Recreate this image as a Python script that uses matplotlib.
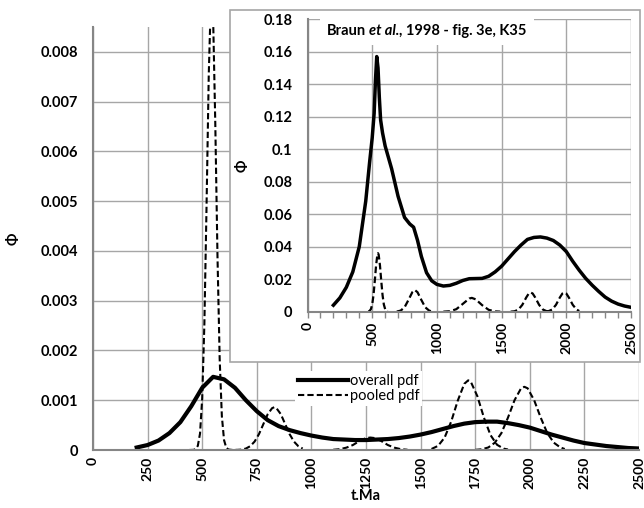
import numpy as np
import matplotlib
matplotlib.use('Agg')
import matplotlib.pyplot as plt
from matplotlib.patches import Rectangle
from matplotlib.offsetbox import TextArea, HPacker, AnchoredOffsetbox
from matplotlib.ticker import FuncFormatter, MultipleLocator

FONT = ['Lato', 'DejaVu Sans']
plt.rcParams['font.family'] = FONT

# ---- main chart: overall pdf (t in Ma, phi) ----
main_overall_t = [200, 250, 300, 350, 400, 450, 500, 550, 600, 650, 700, 750,
                  800, 850, 900, 950, 1000, 1050, 1100, 1150, 1200, 1250, 1300,
                  1350, 1400, 1450, 1500, 1550, 1600, 1650, 1700, 1750, 1800,
                  1850, 1900, 1950, 2000, 2050, 2100, 2150, 2200, 2250, 2300,
                  2350, 2400, 2450, 2500]
main_overall_phi = [0.00005, 0.00010, 0.00019, 0.00034, 0.00056, 0.00088,
                    0.00125, 0.00147, 0.00142, 0.00125, 0.00100, 0.00078,
                    0.00060, 0.00048, 0.00040, 0.00034, 0.00029, 0.00025,
                    0.00022, 0.00021, 0.00020, 0.00020, 0.00021, 0.00022,
                    0.00024, 0.00027, 0.00031, 0.00036, 0.00042, 0.00048,
                    0.00053, 0.00056, 0.00057, 0.00057, 0.00054, 0.00050,
                    0.00045, 0.00038, 0.00031, 0.00025, 0.00019, 0.00014,
                    0.00011, 0.00008, 0.00006, 0.00004, 0.00003]

# ---- main chart: pooled pdf, pieces separated by gaps (nan) ----
nan = np.nan
main_pooled_t = [440, 460, 470, 480, 490, 500, 510, 520, 530, 540, 543, 550,
                 560, 570, 580, 590, 600, 610, 620, 640, 660, nan,
                 650, 680, 700, 720, 740, 760, 780, 800, 820, 830, 840, 860,
                 880, 900, 920, 940, 960, nan,
                 1100, 1130, 1160, 1190, 1220, 1250, 1270, 1290, 1320, 1350,
                 1380, 1410, 1440, nan,
                 1550, 1580, 1610, 1640, 1670, 1700, 1718, 1730, 1760, 1790,
                 1820, 1850, 1880, 1900, nan,
                 1750, 1780, 1810, 1840, 1870, 1900, 1930, 1960, 1975, 1990,
                 2020, 2050, 2080, 2110, 2140, 2160]
main_pooled_phi = [0.0, 0.000003, 0.000017, 0.000085, 0.00033, 0.00104,
                   0.00254, 0.00493, 0.00754, 0.0091, 0.0092, 0.00868,
                   0.00654, 0.00389, 0.00183, 0.00068, 0.0002, 0.000046,
                   0.00001, 0.0, 0.0, nan,
                   0.0, 0.000008, 0.000029, 0.000077, 0.00017, 0.00032,
                   0.00052, 0.00072, 0.00084, 0.00086, 0.00084, 0.00072,
                   0.00052, 0.00032, 0.00017, 0.000077, 0.000029, nan,
                   0.000005, 0.000016, 0.000047, 0.0001, 0.00018, 0.00024,
                   0.00025, 0.00024, 0.00018, 0.0001, 0.000047, 0.000016,
                   0.000005, nan,
                   0.000021, 0.000083, 0.00025, 0.00057, 0.00099, 0.00133,
                   0.0014, 0.00137, 0.00108, 0.00065, 0.0003, 0.000105,
                   0.000028, 0.00001, nan,
                   0.000003, 0.000014, 0.000051, 0.000147, 0.00034, 0.00065,
                   0.001, 0.00124, 0.00127, 0.00124, 0.001, 0.00065, 0.00034,
                   0.000147, 0.000051, 0.00002]

# ---- inset (Braun et al., 1998): overall pdf ----
inset_overall_t = [200, 250, 300, 350, 400, 450, 480, 500, 515, 525, 535, 545,
                   555, 565, 580, 600, 650, 700, 750, 790, 820, 850, 880, 920,
                   960, 1000, 1050, 1100, 1150, 1200, 1250, 1300, 1350, 1400,
                   1450, 1500, 1550, 1600, 1650, 1700, 1750, 1800, 1850, 1900,
                   1950, 2000, 2050, 2100, 2150, 2200, 2250, 2300, 2350, 2400,
                   2450, 2500]
inset_overall_phi = [0.004, 0.0085, 0.015, 0.0245, 0.040, 0.068, 0.092, 0.107,
                     0.122, 0.142, 0.157, 0.150, 0.132, 0.118, 0.110, 0.102,
                     0.088, 0.071, 0.058, 0.054, 0.052, 0.044, 0.034, 0.024,
                     0.019, 0.0168, 0.0158, 0.0162, 0.0175, 0.0192, 0.0203,
                     0.0204, 0.0205, 0.0218, 0.0245, 0.028, 0.0325, 0.037,
                     0.041, 0.0445, 0.0457, 0.046, 0.0453, 0.0438, 0.041,
                     0.037, 0.031, 0.0255, 0.0205, 0.0163, 0.0125, 0.009,
                     0.0065, 0.0047, 0.0035, 0.0027]

# ---- inset: pooled pdf ----
inset_pooled_t = [470, 480, 490, 500, 510, 520, 530, 540, 545, 550, 560, 570,
                  580, 590, 600, 610, 620, nan,
                  690, 720, 750, 780, 810, 830, 850, 880, 910, 940, 960, nan,
                  1050, 1100, 1150, 1200, 1250, 1270, 1300, 1350, 1400, 1450,
                  1490, nan,
                  1570, 1600, 1630, 1660, 1690, 1710, 1725, 1740, 1760, 1790,
                  1820, 1850, 1870, nan,
                  1840, 1860, 1890, 1920, 1950, 1970, 1985, 2000, 2020, 2050,
                  2080, 2100]
inset_pooled_phi = [0.0001, 0.00046, 0.0016, 0.0044, 0.0102, 0.0189, 0.0285,
                    0.0351, 0.036, 0.0351, 0.0285, 0.0189, 0.0102, 0.0044,
                    0.0016, 0.00046, 0.0001, nan,
                    0.0001, 0.00067, 0.0027, 0.0072, 0.012, 0.0133, 0.012,
                    0.0072, 0.0027, 0.00067, 0.0002, nan,
                    0.00003, 0.00028, 0.00155, 0.0048, 0.0081, 0.0085, 0.0076,
                    0.004, 0.00115, 0.00018, 0.00003, nan,
                    0.00003, 0.00025, 0.0013, 0.0042, 0.0087, 0.0112, 0.0118,
                    0.0112, 0.0087, 0.0042, 0.0013, 0.00025, 0.00007, nan,
                    0.00007, 0.00025, 0.0013, 0.0042, 0.0087, 0.0112, 0.0118,
                    0.0112, 0.0087, 0.0042, 0.0013, 0.0004]

GRID = '#a6a6a6'
SPINE = '#868686'
FS = 10.5
XFS = 10
W, H = 644, 508

fig = plt.figure(figsize=(W / 100, H / 100), dpi=100)
fmt = FuncFormatter(lambda v, p: '%g' % round(v, 6))

# main chart
ax = fig.add_axes([93 / W, 1 - 450 / H, 546 / W, 423 / H])
ax.plot(main_overall_t, main_overall_phi, color='black', lw=3,
        label='overall pdf')
ax.plot(main_pooled_t, main_pooled_phi, color='black', lw=1.5,
        dashes=(3, 1.5), label='pooled pdf')
ax.set_xlim(0, 2500)
ax.set_ylim(0, 0.0085)
ax.set_xticks(np.arange(0, 2501, 250))
ax.set_yticks(np.arange(0, 0.0081, 0.001))
ax.yaxis.set_major_formatter(fmt)
ax.grid(color=GRID, lw=1)
ax.set_axisbelow(True)
for s in ['top', 'right']:
    ax.spines[s].set_visible(False)
for s in ['left', 'bottom']:
    ax.spines[s].set_color(SPINE)
    ax.spines[s].set_linewidth(1.5)
ax.tick_params(axis='both', length=0)
ax.tick_params(axis='y', pad=11, labelsize=FS)
ax.tick_params(axis='x', pad=5, labelrotation=90, labelsize=XFS)
for lab in ax.get_xticklabels() + ax.get_yticklabels():
    lab.set_fontweight('bold')
ax.set_xlabel('t.Ma', fontsize=FS, fontweight='bold', labelpad=0)
ax.set_ylabel('Φ', fontsize=FS, fontweight='bold', labelpad=14)

leg = ax.legend(loc='upper left', bbox_to_anchor=(295 / W, 1 - 371 / H),
                bbox_transform=fig.transFigure, fontsize=FS, frameon=True,
                fancybox=False, framealpha=1, edgecolor='none',
                handlelength=3.4, handletextpad=0.15, labelspacing=0.05,
                borderpad=0.2, borderaxespad=0)

# inset frame
frame = Rectangle((230 / W, 1 - 362 / H), 410 / W, 352 / H,
                  transform=fig.transFigure, facecolor='white',
                  edgecolor=GRID, lw=1.2, zorder=1)
fig.add_artist(frame)

# inset chart
axi = fig.add_axes([307.5 / W, 1 - 311.7 / H, 323.5 / W, 292.5 / H], zorder=2)
axi.plot(inset_overall_t, inset_overall_phi, color='black', lw=2.5)
axi.plot(inset_pooled_t, inset_pooled_phi, color='black', lw=1.6,
         dashes=(3, 1.5))
axi.set_xlim(0, 2500)
axi.set_ylim(0, 0.18)
axi.set_xticks(np.arange(0, 2501, 500))
axi.xaxis.set_minor_locator(MultipleLocator(100))
axi.set_yticks(np.arange(0, 0.181, 0.02))
axi.yaxis.set_major_formatter(fmt)
axi.grid(color=GRID, lw=1)
axi.set_axisbelow(True)
for s in ['top', 'right']:
    axi.spines[s].set_visible(False)
for s in ['left', 'bottom']:
    axi.spines[s].set_color(SPINE)
    axi.spines[s].set_linewidth(1.5)
axi.tick_params(axis='y', length=0, labelsize=FS, pad=11)
axi.tick_params(axis='x', which='both', length=4, color=SPINE, width=1,
                labelsize=XFS, pad=3, labelrotation=90)
for lab in axi.get_xticklabels() + axi.get_yticklabels():
    lab.set_fontweight('bold')
axi.set_ylabel('Φ', fontsize=FS, fontweight='bold', labelpad=10)

# inset title with white box
tp = dict(fontsize=10.5, fontweight='bold', family=FONT)
head = HPacker(children=[
    TextArea('Braun', textprops=tp),
    TextArea('et al.', textprops=dict(tp, style='italic')),
], align='baseline', pad=0, sep=2)
title = HPacker(children=[
    head,
    TextArea(', 1998 - fig. 3e, K35', textprops=tp),
], align='baseline', pad=0, sep=0)
tbox = AnchoredOffsetbox(loc='upper left', child=title, pad=0.5,
                         borderpad=0, frameon=True,
                         bbox_to_anchor=(320 / W, 1 - 17 / H),
                         bbox_transform=fig.transFigure)
tbox.patch.set_facecolor('white')
tbox.patch.set_edgecolor('none')
tbox.patch.set_boxstyle('square', pad=0)
axi.add_artist(tbox)

fig.savefig('out.png', dpi=100, facecolor='white')
